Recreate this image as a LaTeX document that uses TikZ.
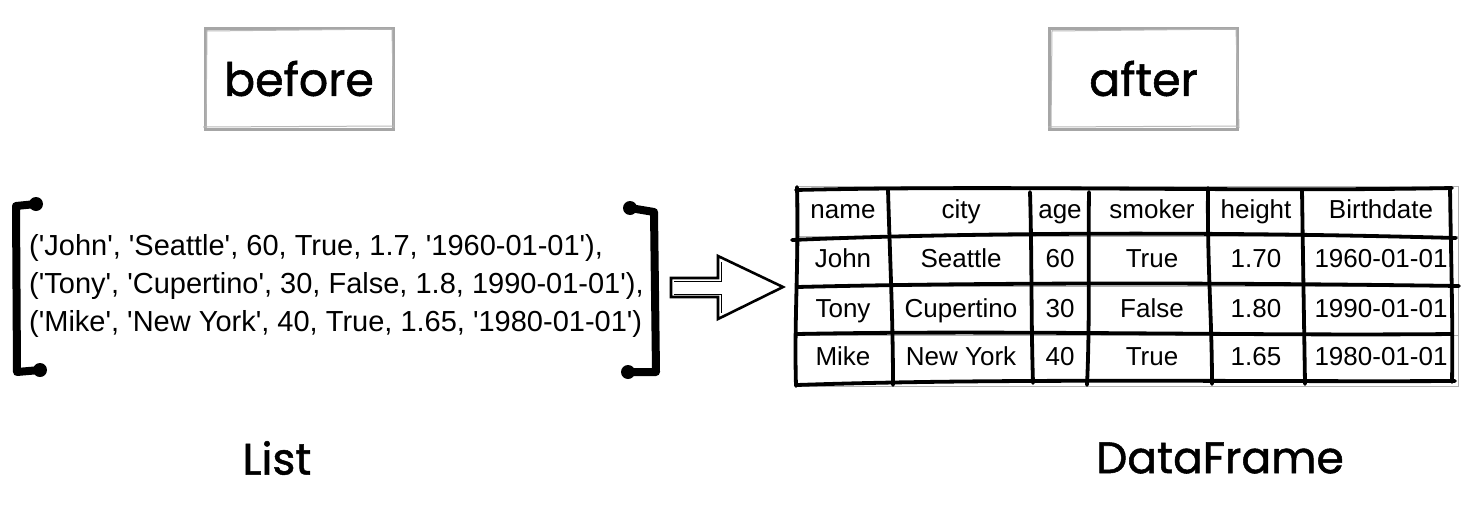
\documentclass[tikz,border=0pt]{standalone}
\usepackage{fontspec}
\newfontfamily\handfont{Poppins}[FakeBold=1.2]
\newfontfamily\helv{Liberation Sans}[Ligatures=TeXOff]
\begin{document}
\begin{tikzpicture}[x=1pt,y=-1pt,
  biglabel/.style={font=\handfont\fontsize{44}{50}\selectfont},
  boxlbl/.style={draw=gray!70, line width=3pt, minimum width=188pt, minimum height=101pt, font=\handfont\fontsize{46}{50}\selectfont},
  cell/.style={font=\helv\fontsize{26}{30}\selectfont, text height=19pt, text depth=5pt, inner sep=0pt},
  hand/.style={line width=3.8pt, line cap=round, line join=round},
  bracket/.style={line width=8pt, line cap=round, line join=round},
  sketch/.style={gray!55, line width=1pt}]
\useasboundingbox (0,0) rectangle (1479,530);

% titles
\node[boxlbl] (before) at (299,78.5) {before};
\draw[sketch] (207,31) -- (391,29) (203,127) -- (394,126) (207,30) -- (206,128) (392,29) -- (394,128);
\node[boxlbl] (after) at (1143.5,78.5) {after};
\draw[sketch] (1052,31) -- (1236,29) (1048,127) -- (1238,126) (1052,30) -- (1051,128) (1236,29) -- (1239,128);

\node[biglabel] (list) at (277,458) {List};
\node[biglabel] (df) at (1220,458) {DataFrame};

% list of tuples
\node[anchor=west, align=left, inner sep=0pt, font=\helv\fontsize{29}{38}\selectfont] (tuples) at (29,286)
 {('John', 'Seattle', 60, True, 1.7, '1960-01-01'),\\
  ('Tony', 'Cupertino', 30, False, 1.8, 1990-01-01'),\\
  ('Mike', 'New York', 40, True, 1.65, '1980-01-01')};

% brackets
\draw[bracket] (36,204) -- (16,206) -- (17,372) -- (40,370);
\fill (36,204) circle (7pt) (40,370) circle (7pt);
\draw[bracket] (630,208) -- (654,212) -- (656,372) -- (628,372);
\fill (630,208) circle (7pt) (628,372) circle (7pt);

% arrow
\draw[line width=2.6pt, line join=miter, fill=white] (671,278) -- (718,278) -- (718,256) -- (783,287) -- (718,319) -- (718,297) -- (671,297) -- cycle;
\draw[line width=1pt] (674,281) -- (721,281) -- (721,262) (674,294) -- (721,294) -- (721,313);

% table thin frame
\draw[gray!60, line width=0.7pt] (795,186) rectangle (1458,386);
\draw[gray!60, line width=0.5pt] (795,236) -- (1458,236) (795,286) -- (1458,286) (795,335) -- (1458,335);

% table cells
\foreach \t [count=\i] in {name,city,age,smoker,height,Birthdate}
  \node[cell] (h-\i) at ({\ifcase\i\or 843\or 961\or 1060\or 1152\or 1256\or 1381\fi},211) {\t};
\foreach \t [count=\i] in {John,Seattle,60,True,1.70,1960-01-01}
  \node[cell] (a-\i) at ({\ifcase\i\or 843\or 961\or 1060\or 1152\or 1256\or 1381\fi},260) {\t};
\foreach \t [count=\i] in {Tony,Cupertino,30,False,1.80,1990-01-01}
  \node[cell] (b-\i) at ({\ifcase\i\or 843\or 961\or 1060\or 1152\or 1256\or 1381\fi},310) {\t};
\foreach \t [count=\i] in {Mike,New York,40,True,1.65,1980-01-01}
  \node[cell] (c-\i) at ({\ifcase\i\or 843\or 961\or 1060\or 1152\or 1256\or 1381\fi},358) {\t};

% hand-drawn grid lines
\draw[hand] (796,190) .. controls (1000,185) and (1250,192) .. (1452,188);
\draw[hand] (792,240) .. controls (950,233) and (1200,231) .. (1456,238);
\draw[hand] (797,287) .. controls (1000,282) and (1250,283) .. (1459,286);
\draw[hand] (797,334) .. controls (1000,330) and (1250,336) .. (1452,334);
\draw[hand] (797,385) .. controls (1000,378) and (1250,382) .. (1455,381);
\draw[hand] (797,187) .. controls (799,260) and (794,320) .. (796,386);
\draw[hand] (888,190) .. controls (890,260) and (893,320) .. (893,385);
\draw[hand] (1030,192) .. controls (1032,260) and (1031,320) .. (1033,383);
\draw[hand] (1089,192) .. controls (1088,260) and (1090,320) .. (1087,385);
\draw[hand] (1208,188) .. controls (1207,260) and (1212,320) .. (1212,384);
\draw[hand] (1302,190) .. controls (1303,260) and (1304,320) .. (1305,384);
\draw[hand] (1450,188) .. controls (1451,260) and (1453,320) .. (1452,382);
\end{tikzpicture}
\end{document}
